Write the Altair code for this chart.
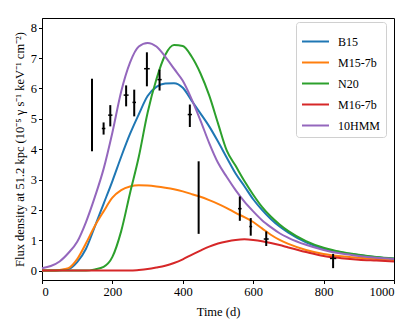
import altair as alt
import pandas as pd

# ---- data ----
t = [0, 25, 50, 75, 100, 125, 150, 175, 200, 225, 250, 275, 300, 325, 350, 375, 400,
     425, 450, 475, 500, 525, 550, 575, 600, 625, 650, 675, 700, 750, 800, 850, 900, 950, 1000]

b15 = [0.0, 0.0, 0.01, 0.05, 0.28, 0.72, 1.45, 2.2, 2.95, 3.75, 4.5, 5.15, 5.75, 6.05, 6.16, 6.17, 6.02,
       5.6, 5.18, 4.75, 4.25, 3.72, 3.2, 2.78, 2.35, 2.0, 1.7, 1.45, 1.25, 0.93, 0.72, 0.6, 0.51, 0.44, 0.39]
m15 = [0.0, 0.0, 0.02, 0.08, 0.38, 0.9, 1.47, 1.95, 2.4, 2.65, 2.77, 2.81, 2.8, 2.77, 2.73, 2.68, 2.61,
       2.52, 2.43, 2.32, 2.2, 2.06, 1.9, 1.76, 1.6, 1.39, 1.18, 1.01, 0.88, 0.68, 0.55, 0.47, 0.42, 0.38, 0.35]
n20 = [0.0, 0.0, 0.0, 0.0, 0.0, 0.0, 0.04, 0.12, 0.45, 1.3, 2.55, 3.75, 5.2, 6.3, 7.1, 7.43, 7.4,
       7.05, 6.5, 5.77, 4.85, 3.95, 3.45, 2.95, 2.5, 2.1, 1.78, 1.52, 1.3, 0.97, 0.75, 0.61, 0.52, 0.45, 0.4]
m16 = [0.0, 0.0, 0.0, 0.0, 0.0, 0.0, 0.0, 0.0, 0.0, 0.0, 0.0, 0.02, 0.05, 0.1, 0.16, 0.25, 0.37,
       0.52, 0.66, 0.79, 0.89, 0.96, 1.01, 1.03, 1.01, 0.97, 0.91, 0.84, 0.76, 0.61, 0.48, 0.41, 0.36, 0.33, 0.3]
hmm10 = [0.08, 0.15, 0.3, 0.58, 0.95, 1.6, 2.42, 3.35, 4.55, 5.9, 6.85, 7.38, 7.5, 7.38, 7.05, 6.65, 6.25,
         5.65, 4.95, 4.2, 3.55, 3.08, 2.65, 2.27, 1.95, 1.66, 1.43, 1.23, 1.08, 0.85, 0.68, 0.56, 0.48, 0.42, 0.38]

models = ["B15", "M15-7b", "N20", "M16-7b", "10HMM"]
colors = ["#1f77b4", "#ff7f0e", "#2ca02c", "#d62728", "#9467bd"]

obs_t = [142, 175, 194, 239, 262, 298, 334, 420, 445, 562, 593, 637, 827]
obs_v = [5.12, 4.68, 5.12, 5.78, 5.54, 6.65, 6.29, 5.14, 2.4, 2.04, 1.45, 1.04, 0.40]
obs_lo = [3.93, 4.48, 4.75, 5.41, 5.08, 6.07, 5.93, 4.73, 1.21, 1.64, 1.15, 0.81, 0.08]
obs_hi = [6.32, 4.88, 5.45, 6.1, 5.96, 7.19, 6.62, 5.47, 3.6, 2.44, 1.73, 1.29, 0.55]
obs_terr = [0, 5, 6, 7, 5, 8, 6, 6, 0, 5, 4, 7, 9]

x_ticks = [0, 200, 400, 600, 800, 1000]
y_ticks = [0, 1, 2, 3, 4, 5, 6, 7, 8]

# ---- tables ----
rows = []
for name, ser in zip(models, [b15, m15, n20, m16, hmm10]):
    for ti, vi in zip(t, ser):
        rows.append({"t": ti, "v": vi, "model": name})
curves = pd.DataFrame(rows)

obs = pd.DataFrame({
    "t": obs_t, "v": obs_v, "lo": obs_lo, "hi": obs_hi,
    "tlo": [a - b for a, b in zip(obs_t, obs_terr)],
    "thi": [a + b for a, b in zip(obs_t, obs_terr)],
})

FONT = "Liberation Serif"

xscale = alt.Scale(domain=[0, 1000], nice=False, zero=False)
yscale = alt.Scale(domain=[-0.31, 8.32], nice=False, zero=False)

xaxis = alt.Axis(title="Time (d)", values=x_ticks, format="d", grid=False,
                 tickSize=3.5, labelPadding=2, titlePadding=7, labelOverlap=False)
yaxis = alt.Axis(title="Flux density at 51.2 kpc (10⁻⁵ γ s⁻¹ keV⁻¹ cm⁻²)",
                 values=y_ticks, format="d", grid=False, tickSize=3.5, labelPadding=2,
                 titlePadding=4, labelOverlap=False)

lines = alt.Chart(curves).mark_line(strokeWidth=2, interpolate="monotone").encode(
    x=alt.X("t:Q", scale=xscale, axis=xaxis),
    y=alt.Y("v:Q", scale=yscale, axis=yaxis),
    color=alt.Color("model:N", sort=models,
                    scale=alt.Scale(domain=models, range=colors),
                    legend=alt.Legend(title=None, orient="none", legendX=254, legendY=4,
                                      symbolType="stroke", symbolSize=729, symbolStrokeWidth=2,
                                      labelFont=FONT, labelFontSize=12, labelOffset=8,
                                      padding=5, strokeColor="#d0d0d0", cornerRadius=3,
                                      fillColor="white", rowPadding=-3.5)),
    detail="model:N",
)

vbars = alt.Chart(obs).mark_rule(color="black", strokeWidth=2).encode(
    x=alt.X("t:Q", scale=xscale, axis=xaxis),
    y=alt.Y("lo:Q", scale=yscale, axis=yaxis),
    y2="hi:Q",
)
hbars = alt.Chart(obs).mark_rule(color="black", strokeWidth=1.5).encode(
    x=alt.X("tlo:Q", scale=xscale, axis=xaxis),
    x2="thi:Q",
    y=alt.Y("v:Q", scale=yscale, axis=yaxis),
)

chart = alt.layer(lines, vbars, hbars).properties(
    width=352, height=262,
    autosize=alt.AutoSizeParams(type="none"),
    padding={"left": 34, "top": 10, "right": 12, "bottom": 45},
).configure_view(
    stroke="black", strokeWidth=1
).configure_axis(
    labelFont=FONT, titleFont=FONT, labelFontSize=12.5, titleFontSize=12.5,
    titleFontWeight="normal", labelColor="black", titleColor="black",
    domainColor="black", tickColor="black", domainWidth=1
).configure_axisY(
    labelAlign="right"
)

chart.save("out.html", embed_options={"renderer": "svg", "actions": False})
